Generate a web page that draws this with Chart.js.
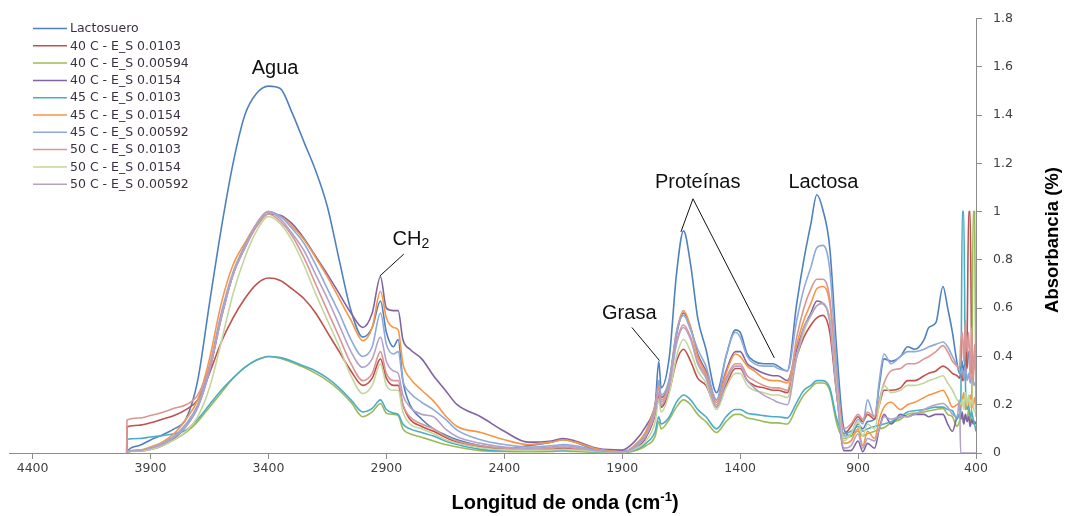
<!DOCTYPE html>
<html>
<head>
<meta charset="utf-8">
<script src="https://cdn.jsdelivr.net/npm/chart.js@4.4.1/dist/chart.umd.min.js"></script>
<style>
  html, body { margin: 0; padding: 0; background: #ffffff; }
  canvas { display: block; }
</style>
</head>
<body>
<canvas id="spectra" width="1065" height="516"></canvas>
<script>
// Wavenumbers (cm-1), shared by every spectrum
const wavenumbers = [
  4001, 4000, 3950, 3900, 3850, 3800, 3750, 3700, 3650, 3600,
  3550, 3500, 3450, 3400, 3350, 3300, 3250, 3200, 3150, 3100,
  3050, 3000, 2960, 2925, 2900, 2870, 2850, 2830, 2800, 2750,
  2700, 2650, 2600, 2500, 2400, 2300, 2200, 2150, 2100, 2000,
  1900, 1850, 1800, 1760, 1745, 1735, 1700, 1670, 1640, 1610,
  1580, 1545, 1500, 1460, 1420, 1400, 1370, 1340, 1300, 1260,
  1240, 1200, 1160, 1130, 1100, 1075, 1050, 1020, 990, 960,
  930, 900, 880, 860, 830, 810, 790, 760, 720, 690,
  660, 620, 600, 570, 540, 520, 500, 480, 470, 465,
  458, 452, 445, 438, 431, 425, 418, 412, 406, 400
];

// Absorbance of each sample
const lactosuero = [
  0, 0.005, 0.03, 0.054, 0.075, 0.10, 0.14, 0.30, 0.62, 0.93,
  1.20, 1.40, 1.49, 1.52, 1.51, 1.41, 1.29, 1.17, 1.02, 0.80,
  0.59, 0.48, 0.52, 0.63, 0.50, 0.44, 0.47, 0.30, 0.20, 0.14,
  0.10, 0.075, 0.055, 0.03, 0.02, 0.03, 0.045, 0.055, 0.045, 0.01,
  0.005, 0.02, 0.065, 0.20, 0.38, 0.27, 0.40, 0.74, 0.92, 0.78,
  0.56, 0.43, 0.25, 0.40, 0.51, 0.50, 0.41, 0.38, 0.37, 0.37,
  0.36, 0.34, 0.62, 0.80, 0.95, 1.07, 1.01, 0.85, 0.42, 0.10,
  0.07, 0.12, 0.10, 0.13, 0.14, 0.28, 0.39, 0.38, 0.40, 0.44,
  0.43, 0.47, 0.52, 0.54, 0.69, 0.60, 0.50, 0.37, 0.33, 0.35,
  0.38, 0.30, 0.40, 0.35, 0.42, 0.38, 0.33, 0.40, 0.36, 0.38
];
const t40_0103 = [
  0, 0.108, 0.115, 0.125, 0.14, 0.155, 0.18, 0.22, 0.33, 0.46,
  0.56, 0.64, 0.70, 0.725, 0.715, 0.68, 0.64, 0.58, 0.50, 0.42,
  0.34, 0.28, 0.31, 0.39, 0.31, 0.28, 0.28, 0.20, 0.14, 0.11,
  0.09, 0.065, 0.045, 0.025, 0.015, 0.012, 0.015, 0.02, 0.015, 0.005,
  0.003, 0.02, 0.065, 0.16, 0.24, 0.19, 0.26, 0.38, 0.43, 0.38,
  0.31, 0.28, 0.19, 0.28, 0.35, 0.35, 0.30, 0.28, 0.27, 0.26,
  0.26, 0.25, 0.40, 0.48, 0.53, 0.56, 0.57, 0.50, 0.24, 0.08,
  0.11, 0.15, 0.13, 0.16, 0.14, 0.20, 0.26, 0.26, 0.27, 0.30,
  0.30, 0.32, 0.33, 0.34, 0.36, 0.35, 0.33, 0.32, 0.31, 0.33,
  0.30, 0.36, 0.32, 0.45, 1.0, 1.0, 0.40, 0.34, 0.38, 0.36
];
const t40_00594 = [
  0, 0.003, 0.01, 0.02, 0.035, 0.055, 0.085, 0.13, 0.19, 0.25,
  0.31, 0.355, 0.385, 0.40, 0.393, 0.375, 0.355, 0.33, 0.30, 0.26,
  0.21, 0.15, 0.17, 0.205, 0.165, 0.16, 0.155, 0.10, 0.08, 0.065,
  0.05, 0.035, 0.025, 0.01, 0.006, 0.005, 0.006, 0.008, 0.006, 0.003,
  0.002, 0.008, 0.03, 0.07, 0.13, 0.10, 0.14, 0.19, 0.22, 0.20,
  0.16, 0.13, 0.085, 0.13, 0.16, 0.16, 0.145, 0.14, 0.13, 0.125,
  0.125, 0.12, 0.19, 0.24, 0.27, 0.29, 0.29, 0.26, 0.12, 0.06,
  0.07, 0.09, 0.07, 0.08, 0.09, 0.10, 0.105, 0.125, 0.14, 0.16,
  0.165, 0.17, 0.175, 0.18, 0.185, 0.16, 0.15, 0.11, 0.13, 0.14,
  0.15, 0.12, 0.16, 0.14, 0.18, 0.13, 0.20, 1.0, 1.0, 0.15
];
const t40_0154 = [
  0, 0.005, 0.008, 0.015, 0.03, 0.06, 0.11, 0.19, 0.34, 0.56,
  0.74, 0.85, 0.94, 0.99, 0.985, 0.95, 0.89, 0.815, 0.74, 0.66,
  0.58, 0.52, 0.58, 0.73, 0.60, 0.59, 0.59, 0.47, 0.43, 0.39,
  0.32, 0.26, 0.20, 0.15, 0.09, 0.045, 0.05, 0.06, 0.05, 0.018,
  0.012, 0.045, 0.11, 0.20, 0.30, 0.23, 0.30, 0.49, 0.58, 0.52,
  0.41, 0.34, 0.22, 0.34, 0.42, 0.42, 0.37, 0.35, 0.33, 0.32,
  0.32, 0.30, 0.43, 0.52, 0.58, 0.63, 0.62, 0.55, 0.25, 0.01,
  0.01, 0.05, 0.005, 0.04, 0.02, 0.10, 0.16, 0.12, 0.16, 0.15,
  0.16, 0.16, 0.15, 0.16, 0.16, 0.12, 0.09, 0.15, 0.16, 0.14,
  0.17, 0.12, 0.16, 0.13, 0.15, 0.11, 0.14, 0.12, 0.13, 0.12
];
const t45_0103 = [
  0, 0.056, 0.06, 0.066, 0.072, 0.08, 0.095, 0.14, 0.20, 0.26,
  0.31, 0.355, 0.385, 0.40, 0.395, 0.38, 0.36, 0.34, 0.31, 0.27,
  0.22, 0.17, 0.185, 0.22, 0.18, 0.165, 0.16, 0.12, 0.10, 0.085,
  0.07, 0.05, 0.035, 0.015, 0.01, 0.008, 0.01, 0.012, 0.01, 0.004,
  0.003, 0.012, 0.04, 0.09, 0.15, 0.12, 0.15, 0.21, 0.24, 0.22,
  0.18, 0.15, 0.10, 0.15, 0.18, 0.18, 0.165, 0.16, 0.155, 0.15,
  0.15, 0.145, 0.21, 0.26, 0.28, 0.30, 0.30, 0.27, 0.14, 0.08,
  0.09, 0.11, 0.09, 0.10, 0.11, 0.115, 0.12, 0.13, 0.15, 0.17,
  0.175, 0.18, 0.185, 0.19, 0.19, 0.18, 0.175, 0.14, 0.16, 0.17,
  1.0, 1.0, 0.30, 0.18, 0.20, 0.15, 0.17, 0.14, 0.12, 0.09
];
const t45_0154 = [
  0, 0.005, 0.012, 0.025, 0.045, 0.08, 0.14, 0.22, 0.39, 0.62,
  0.78, 0.87, 0.95, 1.0, 0.98, 0.94, 0.885, 0.81, 0.73, 0.64,
  0.55, 0.465, 0.52, 0.67, 0.56, 0.52, 0.51, 0.37, 0.31, 0.26,
  0.215, 0.155, 0.11, 0.085, 0.055, 0.035, 0.045, 0.055, 0.045, 0.015,
  0.005, 0.03, 0.09, 0.20, 0.28, 0.22, 0.30, 0.50, 0.59, 0.52,
  0.40, 0.33, 0.21, 0.33, 0.41, 0.40, 0.36, 0.34, 0.31, 0.30,
  0.30, 0.29, 0.45, 0.55, 0.62, 0.68, 0.69, 0.62, 0.30, 0.04,
  0.05, 0.10, 0.03, 0.09, 0.06, 0.14, 0.19, 0.21, 0.18, 0.20,
  0.21, 0.23, 0.24, 0.25, 0.26, 0.23, 0.19, 0.20, 0.21, 0.19,
  0.22, 0.25, 0.18, 0.22, 0.20, 0.24, 0.21, 0.19, 0.23, 0.20
];
const t45_00592 = [
  0, 0.005, 0.01, 0.02, 0.04, 0.07, 0.12, 0.20, 0.36, 0.58,
  0.75, 0.86, 0.95, 1.0, 0.98, 0.93, 0.87, 0.78, 0.68, 0.58,
  0.47, 0.40, 0.44, 0.58, 0.45, 0.41, 0.42, 0.30, 0.25, 0.21,
  0.18, 0.14, 0.095, 0.055, 0.035, 0.025, 0.03, 0.035, 0.03, 0.01,
  0.005, 0.025, 0.08, 0.19, 0.30, 0.24, 0.31, 0.50, 0.57, 0.51,
  0.43, 0.36, 0.22, 0.40, 0.50, 0.48, 0.40, 0.37, 0.36, 0.36,
  0.35, 0.34, 0.55, 0.68, 0.77, 0.85, 0.86, 0.76, 0.35, 0.07,
  0.08, 0.14, 0.12, 0.22, 0.15, 0.30, 0.41, 0.37, 0.40, 0.42,
  0.42, 0.43, 0.44, 0.45, 0.46, 0.44, 0.40, 0.36, 0.34, 0.33,
  0.35, 0.31, 0.36, 0.30, 0.33, 0.29, 0.32, 0.30, 0.28, 0.30
];
const t50_0103 = [
  0, 0.136, 0.145, 0.155, 0.168, 0.185, 0.20, 0.24, 0.36, 0.56,
  0.74, 0.85, 0.94, 0.99, 0.96, 0.90, 0.81, 0.70, 0.59, 0.48,
  0.37, 0.30, 0.33, 0.42, 0.33, 0.30, 0.30, 0.20, 0.15, 0.12,
  0.10, 0.07, 0.05, 0.03, 0.02, 0.015, 0.02, 0.025, 0.02, 0.008,
  0.004, 0.02, 0.075, 0.18, 0.27, 0.21, 0.29, 0.46, 0.53, 0.48,
  0.38, 0.32, 0.20, 0.31, 0.37, 0.37, 0.32, 0.30, 0.28, 0.27,
  0.27, 0.26, 0.48, 0.60, 0.68, 0.72, 0.72, 0.64, 0.30, 0.10,
  0.12, 0.16, 0.14, 0.17, 0.15, 0.22, 0.29, 0.34, 0.35, 0.37,
  0.37, 0.39, 0.40, 0.42, 0.445, 0.42, 0.38, 0.36, 0.35, 0.45,
  0.50, 0.38, 0.55, 0.42, 0.50, 0.30, 0.52, 0.28, 0.45, 0.30
];
const t50_0154 = [
  0, 0.003, 0.008, 0.015, 0.03, 0.055, 0.09, 0.15, 0.27, 0.46,
  0.66, 0.81, 0.92, 0.98, 0.95, 0.88, 0.78, 0.66, 0.55, 0.44,
  0.32, 0.246, 0.28, 0.37, 0.28, 0.26, 0.26, 0.17, 0.12, 0.10,
  0.08, 0.055, 0.04, 0.022, 0.013, 0.01, 0.012, 0.015, 0.012, 0.005,
  0.003, 0.015, 0.05, 0.13, 0.22, 0.17, 0.25, 0.40, 0.47, 0.42,
  0.34, 0.29, 0.18, 0.27, 0.33, 0.33, 0.28, 0.26, 0.25, 0.24,
  0.24, 0.23, 0.40, 0.50, 0.57, 0.61, 0.62, 0.55, 0.26, 0.05,
  0.08, 0.13, 0.07, 0.12, 0.10, 0.20, 0.28, 0.25, 0.26, 0.28,
  0.28, 0.29, 0.30, 0.31, 0.32, 0.29, 0.26, 0.22, 0.21, 0.20,
  0.22, 0.18, 0.25, 0.20, 0.24, 0.19, 0.22, 0.20, 0.17, 0.18
];
const t50_00592 = [
  0, 0.005, 0.01, 0.02, 0.035, 0.065, 0.11, 0.19, 0.34, 0.56,
  0.74, 0.85, 0.95, 1.0, 0.97, 0.91, 0.84, 0.74, 0.64, 0.53,
  0.42, 0.355, 0.39, 0.48, 0.38, 0.34, 0.33, 0.24, 0.19, 0.16,
  0.15, 0.10, 0.067, 0.04, 0.025, 0.02, 0.025, 0.03, 0.025, 0.008,
  0.004, 0.02, 0.07, 0.17, 0.25, 0.20, 0.28, 0.45, 0.52, 0.47,
  0.37, 0.31, 0.19, 0.30, 0.36, 0.36, 0.30, 0.27, 0.24, 0.22,
  0.21, 0.20, 0.40, 0.52, 0.57, 0.61, 0.62, 0.54, 0.24, 0.02,
  0.03, 0.08, 0.02, 0.06, 0.05, 0.10, 0.15, 0.14, 0.15, 0.15,
  0.16, 0.18, 0.19, 0.20, 0.205, 0.19, 0.16, 0.15, 0.22, 0,
  0, 0, 0, 0, 0, 0, 0, 0, 0, 0
];

const seriesLabels = [
  'Lactosuero',
  '40 C - E_S 0.0103',
  '40 C - E_S 0.00594',
  '40 C - E_S 0.0154',
  '45 C - E_S 0.0103',
  '45 C - E_S 0.0154',
  '45 C - E_S 0.00592',
  '50 C - E_S 0.0103',
  '50 C - E_S 0.0154',
  '50 C - E_S 0.00592'
];
const seriesValues = [
  lactosuero, t40_0103, t40_00594, t40_0154, t45_0103,
  t45_0154, t45_00592, t50_0103, t50_0154, t50_00592
];
const seriesColors = [
  '#4F81BD', '#C0504D', '#9BBB59', '#8064A2', '#4BACC6',
  '#F79646', '#8EA9DB', '#D99694', '#C3D69B', '#B3A2C7'
];

const xTicks = [4400, 3900, 3400, 2900, 2400, 1900, 1400, 900, 400];
const yTicks = [0, 0.2, 0.4, 0.6, 0.8, 1, 1.2, 1.4, 1.6, 1.8];

// Band labels, anchored in data units (wavenumber, absorbance)
const bandLabels = [
  { text: 'Agua', at: [3372, 1.594] },
  { text: 'Grasa', at: [1870, 0.577], lines: [[[1859, 0.52], [1742, 0.383]]] },
  { text: 'Proteínas', at: [1580, 1.12], lines: [[[1600, 1.053], [1651, 0.916]], [[1600, 1.053], [1255, 0.394]]] },
  { text: 'Lactosa', at: [1047, 1.12] }
];
const ch2Label = { at: [2874, 0.885], line: [[2826, 0.824], [2928, 0.733]] };

const FONT_SANS = '"Liberation Sans", Arial, sans-serif';
const FONT_TICK = '"DejaVu Sans", Verdana, sans-serif';

const datasets = seriesValues.map((vals, i) => ({
  label: seriesLabels[i],
  data: vals.map((v, j) => ({ x: wavenumbers[j], y: v })),
  borderColor: seriesColors[i],
  backgroundColor: seriesColors[i],
  borderWidth: 1.6,
  pointRadius: 0,
  pointHoverRadius: 0,
  fill: false,
  cubicInterpolationMode: 'monotone',
  order: seriesValues.length - i
}));

// Legend in the upper-left corner of the plot
const insideLegend = {
  id: 'insideLegend',
  afterDraw(chart) {
    const ctx = chart.ctx;
    ctx.save();
    ctx.font = '12.5px ' + FONT_TICK;
    ctx.textBaseline = 'middle';
    ctx.textAlign = 'left';
    seriesLabels.forEach((lab, i) => {
      const y = 28.5 + i * 17.3;
      ctx.strokeStyle = seriesColors[i];
      ctx.lineWidth = 1.5;
      ctx.beginPath();
      ctx.moveTo(33, y);
      ctx.lineTo(67, y);
      ctx.stroke();
      ctx.fillStyle = '#3a3040';
      ctx.fillText(lab, 70, y + 0.5);
    });
    ctx.restore();
  }
};

// Band annotations with leader lines, plus the axis titles
const bandNotes = {
  id: 'bandNotes',
  afterDraw(chart) {
    const ctx = chart.ctx;
    const xs = chart.scales.x, ys = chart.scales.y;
    const px = p => [xs.getPixelForValue(p[0]), ys.getPixelForValue(p[1])];
    ctx.save();
    ctx.fillStyle = '#111111';
    ctx.strokeStyle = '#111111';
    ctx.lineWidth = 1;
    ctx.font = '20px ' + FONT_SANS;
    ctx.textAlign = 'center';
    ctx.textBaseline = 'middle';
    bandLabels.forEach(b => {
      const [tx, ty] = px(b.at);
      ctx.fillText(b.text, tx, ty);
      (b.lines || []).forEach(seg => {
        const a = px(seg[0]), c = px(seg[1]);
        ctx.beginPath();
        ctx.moveTo(a[0], a[1]);
        ctx.lineTo(c[0], c[1]);
        ctx.stroke();
      });
    });
    // CH2 with subscript
    const [cx, cy] = px(ch2Label.at);
    ctx.textAlign = 'left';
    ctx.fillText('CH', cx, cy);
    const w = ctx.measureText('CH').width;
    ctx.font = '14px ' + FONT_SANS;
    ctx.fillText('2', cx + w, cy + 5);
    const a = px(ch2Label.line[0]), c = px(ch2Label.line[1]);
    ctx.beginPath();
    ctx.moveTo(a[0], a[1]);
    ctx.lineTo(c[0], c[1]);
    ctx.stroke();

    // Axis titles
    ctx.fillStyle = '#000000';
    ctx.textAlign = 'center';
    ctx.font = 'bold 20px ' + FONT_SANS;
    const main = 'Longitud de onda (cm';
    const sup = '-1';
    const close = ')';
    const wMain = ctx.measureText(main).width;
    const wClose = ctx.measureText(close).width;
    ctx.font = 'bold 13px ' + FONT_SANS;
    const wSup = ctx.measureText(sup).width;
    const total = wMain + wSup + wClose;
    let x0 = 565 - total / 2;
    const yT = 503;
    ctx.textAlign = 'left';
    ctx.font = 'bold 20px ' + FONT_SANS;
    ctx.fillText(main, x0, yT);
    ctx.font = 'bold 13px ' + FONT_SANS;
    ctx.fillText(sup, x0 + wMain, yT - 6);
    ctx.font = 'bold 20px ' + FONT_SANS;
    ctx.fillText(close, x0 + wMain + wSup, yT);

    ctx.translate(1053, 240);
    ctx.rotate(-Math.PI / 2);
    ctx.textAlign = 'center';
    ctx.font = 'bold 18.5px ' + FONT_SANS;
    ctx.fillText('Absorbancia (%)', 0, 0);
    ctx.restore();
  }
};

Chart.defaults.color = '#404040';

new Chart(document.getElementById('spectra'), {
  type: 'line',
  data: { datasets },
  options: {
    responsive: false,
    animation: false,
    devicePixelRatio: 1,
    layout: { padding: { left: 9, top: 16, right: 0, bottom: 0 } },
    plugins: {
      legend: { display: false },
      tooltip: { enabled: false }
    },
    scales: {
      x: {
        type: 'linear',
        reverse: true,
        min: 400,
        max: 4500,
        afterBuildTicks: s => { s.ticks = xTicks.map(v => ({ value: v })); },
        afterFit: s => { s.height = 63; },
        ticks: {
          autoSkip: false,
          maxRotation: 0,
          padding: 2,
          color: '#404040',
          font: { family: FONT_TICK, size: 12.5 },
          callback: v => String(v)
        },
        grid: { drawOnChartArea: false, drawTicks: true, tickLength: 6, color: '#8c8c8c' },
        border: { display: true, color: '#8c8c8c', width: 1 },
        title: { display: false }
      },
      y: {
        position: 'right',
        min: 0,
        max: 1.8,
        afterBuildTicks: s => { s.ticks = yTicks.map(v => ({ value: v })); },
        afterFit: s => { s.width = 89; },
        ticks: {
          padding: 11,
          color: '#404040',
          font: { family: FONT_TICK, size: 12.5 },
          callback: v => String(Math.round(v * 10) / 10)
        },
        grid: { drawOnChartArea: false, drawTicks: true, tickLength: 6, color: '#8c8c8c' },
        border: { display: true, color: '#8c8c8c', width: 1 },
        title: { display: false }
      }
    }
  },
  plugins: [insideLegend, bandNotes]
});
</script>
</body>
</html>
